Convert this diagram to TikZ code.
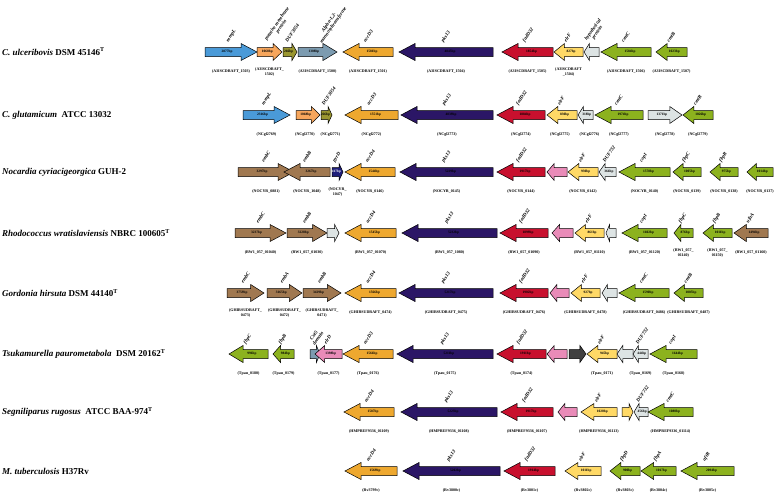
\documentclass[tikz,border=0pt]{standalone}
\usepackage{fontspec}
\setmainfont{Liberation Serif}
\usetikzlibrary{calc}
\definecolor{cblue}{HTML}{4A9AD8}
\definecolor{corange}{HTML}{F7A65C}
\definecolor{colive}{HTML}{9A9630}
\definecolor{cgreyblue}{HTML}{7C9BB0}
\definecolor{cgold}{HTML}{EEA82F}
\definecolor{cpurple}{HTML}{2B1666}
\definecolor{cred}{HTML}{C8102E}
\definecolor{cyellow}{HTML}{FFD966}
\definecolor{cltgrey}{HTML}{DDE4E4}
\definecolor{cgreen}{HTML}{8CB21E}
\definecolor{cbrown}{HTML}{A07850}
\definecolor{cpink}{HTML}{E98BB8}
\definecolor{cdkblue}{HTML}{1E1E7A}
\definecolor{cdkgrey}{HTML}{404040}
\newcommand{\gene}[6]{%
  \pgfmathsetmacro{\gL}{abs((#3)-(#2))}%
  \pgfmathsetmacro{\gD}{((#3)-(#2))/\gL}%
  \pgfmathsetmacro{\gH}{min(16,0.36*\gL)}%
  \pgfmathsetmacro{\gN}{(#3)-\gD*\gH}%
  \pgfmathsetmacro{\gC}{((#2)+(#3))/2}%
  \pgfmathsetmacro{\gT}{((#2)+\gN)/2+\gD*\gH*0.25}%
  \filldraw[genebody, fill=#5] (#2,#4-4.5) -- (\gN,#4-4.5) -- (\gN,#4-8.5) -- (#3,#4) -- (\gN,#4+8.5) -- (\gN,#4+4.5) -- (#2,#4+4.5) -- cycle;
  \coordinate (#1) at (\gC,#4);
  \node[bp] (#1t) at (\gT,#4) {#6};
}
\newcommand{\gnm}[2]{\node[gname] at ($(#1)+(-4,-10)$) {#2};}
\newcommand{\loc}[2]{\node[locus] at ($(#1)+(0,20)$) {#2};}
\begin{document}
\begin{tikzpicture}[x=1pt,y=-1pt,
  genebody/.style={draw=black,line width=0.5pt},
  bp/.style={font=\fontsize{3.5}{4}\selectfont\bfseries, inner sep=0pt},
  gname/.style={font=\fontsize{5}{5.2}\selectfont\bfseries\itshape, anchor=west, rotate=55, inner sep=0.5pt, align=center},
  locus/.style={font=\fontsize{4}{4.4}\selectfont\bfseries, inner sep=0pt, align=center},
  species/.style={font=\fontsize{9}{10}\selectfont\bfseries, anchor=west, inner sep=0pt}]
\useasboundingbox (0,0) rectangle (778,493);
\fill[white] (0,0) rectangle (778,493);

% species
\node[species] (s1) at (2,52) {\itshape C. ulceribovis\upshape\ DSM 45146\textsuperscript{T}};
\node[species] (s2) at (2,115) {\itshape C. glutamicum\upshape\ \ ATCC 13032};
\node[species] (s3) at (2,172) {\itshape Nocardia cyriacigeorgica\upshape\ GUH-2};
\node[species] (s4) at (2,233) {\itshape Rhodococcus wratislaviensis\upshape\ NBRC 100605\textsuperscript{T}};
\node[species] (s5) at (2,293) {\itshape Gordonia hirsuta\upshape\ DSM 44140\textsuperscript{T}};
\node[species] (s6) at (2,354) {\itshape Tsukamurella paurometabola\upshape\ \ DSM 20162\textsuperscript{T}};
\node[species] (s7) at (2,412) {\itshape Segniliparus rugosus\upshape\ \ ATCC BAA-974\textsuperscript{T}};
\node[species] (s8) at (2,471) {\itshape M. tuberculosis\upshape\ H37Rv};

% Row 1
\gene{r1a}{205}{257}{52}{cblue}{2877bp}
\gene{r1b}{257}{282}{52}{corange}{1068bp}
\gene{r1c}{283}{297}{52}{colive}{266bp}
\gene{r1d}{298}{337}{52}{cgreyblue}{1308bp}
\gene{r1e}{393}{343}{52}{cgold}{1581bp}
\gene{r1f}{493}{399}{52}{cpurple}{4845bp}
\gene{r1g}{553}{502}{52}{cred}{1854bp}
\gene{r1h}{583}{554}{52}{cyellow}{827bp}
\gene{r1i}{599}{584}{52}{cltgrey}{}
\gene{r1j}{651}{601}{52}{cgreen}{1584bp}
\gene{r1k}{687}{656}{52}{cgreen}{1023bp}
\gnm{r1a}{mmpL}
\node[gname] at ($(r1b)+(-2,-10)$) {putative membrane\\protein};
\gnm{r1c}{DUF3054}
\node[gname] at ($(r1d)+(1,-10)$) {Alpha-1,2-\\mannosyltransferase};
\gnm{r1e}{accD3}
\gnm{r1f}{pks13}
\gnm{r1g}{fadD32}
\gnm{r1h}{elrF}
\gnm{r1i}{hypothetical\\protein}
\gnm{r1j}{cmtC}
\gnm{r1k}{cmtB}
\loc{r1a}{(A3ISCDRAFT\_1503)}
\loc{r1b}{(A3ISCDRAFT\_\\1502)}
\loc{r1d}{(A3ISCDRAFT\_1500)}
\loc{r1e}{(A3ISCDRAFT\_1501)}
\loc{r1f}{(A3ISCDRAFT\_1504)}
\loc{r1g}{(A3ISCDRAFT\_1505)}
\loc{r1h}{(A3ISCDRAFT\\\_1504)}
\loc{r1j}{(A3ISCDRAFT\_1506)}
\loc{r1k}{(A3ISCDRAFT\_1507)}

% Row 2
\gene{r2a}{243}{290}{115}{cblue}{2316bp}
\gene{r2b}{296}{320}{115}{corange}{1068bp}
\gene{r2c}{321}{332}{115}{colive}{266bp}
\gene{r2d}{398}{345}{115}{cgold}{1551bp}
\gene{r2e}{493}{401}{115}{cpurple}{4839bp}
\gene{r2f}{545}{497}{115}{cred}{1884bp}
\gene{r2g}{577}{547}{115}{cyellow}{830bp}
\gene{r2h}{593}{578}{115}{cltgrey}{318bp}
\gene{r2i}{643}{595}{115}{cgreen}{1974bp}
\gene{r2j}{648}{682}{115}{cltgrey}{1371bp}
\gene{r2k}{713}{683}{115}{cgreen}{1026bp}
\gnm{r2a}{mmpL}
\gnm{r2c}{DUF3054}
\gnm{r2d}{accD3}
\gnm{r2e}{pks13}
\gnm{r2f}{fadD32}
\gnm{r2g}{elrF}
\gnm{r2i}{cmtC}
\gnm{r2k}{cmtB}
\loc{r2a}{(NCgl2769)}
\node[locus] at ($(r2b)+(-3,20)$) {(NCgl2770)};
\node[locus] at ($(r2c)+(4,20)$) {(NCgl2771)};
\loc{r2d}{(NCgl2772)}
\loc{r2e}{(NCgl2773)}
\loc{r2f}{(NCgl2774)}
\node[locus] at ($(r2g)+(-2,20)$) {(NCgl2775)};
\node[locus] at ($(r2h)+(4,20)$) {(NCgl2776)};
\loc{r2i}{(NCgl2777)}
\loc{r2j}{(NCgl2778)}
\loc{r2k}{(NCgl2779)}

% Row 3
\gene{r3a}{238}{294}{172}{cbrown}{3297bp}
\gene{r3b}{330}{284}{172}{cbrown}{3267bp}
\gene{r3c}{332}{343}{172}{cdkblue}{\color{white}417bp}
\gene{r3d}{395}{345}{172}{cgold}{1544bp}
\gene{r3e}{493}{400}{172}{cpurple}{5229bp}
\gene{r3f}{545}{497}{172}{cred}{1917bp}
\gene{r3g}{567}{547}{172}{cpink}{}
\gene{r3h}{598}{568}{172}{cyellow}{930bp}
\gene{r3i}{616}{599}{172}{cltgrey}{366bp}
\gene{r3j}{670}{619}{172}{cgreen}{1578bp}
\gene{r3k}{701}{673}{172}{cgreen}{1005bp}
\gene{r3l}{738}{710}{172}{cgreen}{975bp}
\gene{r3m}{773}{747}{172}{cgreen}{1014bp}
\gnm{r3a}{embC}
\gnm{r3b}{embB}
\gnm{r3c}{pyrD}
\gnm{r3d}{accD4}
\gnm{r3e}{pks13}
\gnm{r3f}{fadD32}
\gnm{r3h}{elrF}
\gnm{r3i}{DUF732}
\gnm{r3j}{cop1}
\gnm{r3k}{fbpC}
\gnm{r3l}{fbpB}
\loc{r3a}{(NOCYR\_0881)}
\loc{r3b}{(NOCYR\_1048)}
\loc{r3c}{(NOCYR\_\\1047)}
\loc{r3d}{(NOCYR\_0146)}
\loc{r3e}{(NOCYR\_0145)}
\loc{r3f}{(NOCYR\_0144)}
\loc{r3h}{(NOCYR\_0142)}
\loc{r3j}{(NOCYR\_0140)}
\loc{r3k}{(NOCYR\_0139)}
\loc{r3l}{(NOCYR\_0138)}
\loc{r3m}{(NOCYR\_0137)}

% Row 4
\gene{r4a}{235}{286}{233}{cbrown}{3237bp}
\gene{r4b}{287}{327}{233}{cbrown}{3228bp}
\gene{r4c}{327}{339}{233}{cltgrey}{}
\gene{r4d}{396}{345}{233}{cgold}{1545bp}
\gene{r4e}{497}{402}{233}{cpurple}{5232bp}
\gene{r4f}{548}{500}{233}{cred}{1899bp}
\gene{r4g}{573}{552}{233}{cpink}{}
\gene{r4h}{604}{575}{233}{cyellow}{861bp}
\gene{r4i}{616}{606}{233}{cltgrey}{}
\gene{r4j}{667}{622}{233}{cgreen}{1602bp}
\gene{r4k}{693}{674}{233}{cgreen}{876bp}
\gene{r4l}{732}{703}{233}{cgreen}{1011bp}
\gene{r4m}{768}{734}{233}{cbrown}{1494bp}
\gnm{r4a}{embC}
\gnm{r4b}{embB}
\gnm{r4d}{accD4}
\gnm{r4e}{pks13}
\gnm{r4f}{fadD32}
\gnm{r4h}{elrF}
\gnm{r4j}{cop1}
\gnm{r4k}{fbpC}
\gnm{r4l}{fbpB}
\gnm{r4m}{ufaA}
\loc{r4a}{(RW1\_057\_01040)}
\loc{r4b}{(RW1\_057\_01030)}
\loc{r4d}{(RW1\_057\_01070)}
\loc{r4e}{(RW1\_057\_1080)}
\loc{r4f}{(RW1\_057\_01090)}
\loc{r4h}{(RW1\_057\_01110)}
\loc{r4j}{(RW1\_057\_01120)}
\loc{r4k}{(RW1\_057\_\\01140)}
\loc{r4l}{(RW1\_057\_\\01150)}
\loc{r4m}{(RW1\_057\_01160)}

% Row 5
\gene{r5a}{227}{264}{293}{cbrown}{3759bp}
\gene{r5b}{267}{302}{293}{cbrown}{3165bp}
\gene{r5c}{303}{341}{293}{cbrown}{3429bp}
\gene{r5d}{396}{345}{293}{cgold}{1566bp}
\gene{r5e}{493}{399}{293}{cpurple}{5217bp}
\gene{r5f}{548}{500}{293}{cred}{1902bp}
\gene{r5g}{569}{550}{293}{cpink}{}
\gene{r5h}{600}{571}{293}{cyellow}{927bp}
\gene{r5i}{617}{602}{293}{cltgrey}{}
\gene{r5j}{669}{619}{293}{cgreen}{1590bp}
\gene{r5k}{703}{674}{293}{cgreen}{1005bp}
\gnm{r5a}{embC}
\gnm{r5b}{embA}
\gnm{r5c}{embB}
\gnm{r5d}{accD4}
\gnm{r5e}{pks13}
\gnm{r5f}{fadD32}
\gnm{r5h}{elrF}
\gnm{r5j}{cmtC}
\gnm{r5k}{cmtB}
\loc{r5a}{(GHIRSUDRAFT\_\\0473)}
\loc{r5b}{(GHIRSUDRAFT\_\\0472)}
\loc{r5c}{(GHIRSUDRAFT\_\\0471)}
\loc{r5d}{(GHIRSUDRAFT\_0474)}
\loc{r5e}{(GHIRSUDRAFT\_0475)}
\loc{r5f}{(GHIRSUDRAFT\_0476)}
\loc{r5h}{(GHIRSUDRAFT\_0478)}
\loc{r5j}{(GHIRSUDRAFT\_0486)}
\loc{r5k}{(GHIRSUDRAFT\_0487)}

% Row 6
\gene{r6a}{268}{229}{354}{cgreen}{996bp}
\gene{r6b}{294}{273}{354}{cgreen}{984bp}
\gene{r6c}{310}{320}{354}{cgreyblue}{}
\gene{r6d}{342}{315}{354}{cpink}{1398bp}
\gene{r6e}{393}{343}{354}{cgold}{1566bp}
\gene{r6f}{493}{397}{354}{cpurple}{5211bp}
\gene{r6g}{546}{497}{354}{cred}{1911bp}
\gene{r6h}{567}{547}{354}{cpink}{}
\gene{r6i}{569}{586}{354}{cdkgrey}{}
\gene{r6j}{617}{587}{354}{cyellow}{945bp}
\gene{r6k}{633}{617}{354}{cltgrey}{}
\gene{r6l}{648}{633}{354}{cltgrey}{444bp}
\gene{r6m}{697}{650}{354}{cgreen}{1644bp}
\gnm{r6a}{fbpC}
\gnm{r6b}{fbpB}
\gnm{r6c}{Cut5\\domain}
\gnm{r6d}{elrD}
\gnm{r6e}{accD3}
\gnm{r6f}{pks13}
\gnm{r6g}{fadD32}
\gnm{r6j}{elrF}
\gnm{r6l}{DUF732}
\gnm{r6m}{cop1}
\loc{r6a}{(Tpau\_0180)}
\loc{r6b}{(Tpau\_0179)}
\loc{r6d}{(Tpau\_0177)}
\loc{r6e}{(Tpau\_0176)}
\loc{r6f}{(Tpau\_0175)}
\loc{r6g}{(Tpau\_0174)}
\loc{r6j}{(Tpau\_0171)}
\loc{r6l}{(Tpau\_0169)}
\loc{r6m}{(Tpau\_0168)}

% Row 7
\gene{r7a}{394}{344}{412}{cgold}{1587bp}
\gene{r7b}{497}{401}{412}{cpurple}{5223bp}
\gene{r7c}{553}{501}{412}{cred}{1917bp}
\gene{r7d}{577}{558}{412}{cpink}{}
\gene{r7e}{617}{581}{412}{cyellow}{1020bp}
\gene{r7f}{622}{633}{412}{cyellow}{}
\gene{r7g}{648}{634}{412}{cltgrey}{456bp}
\gene{r7h}{693}{648}{412}{cgreen}{1080bp}
\gnm{r7a}{accD4}
\gnm{r7b}{pks13}
\gnm{r7c}{fadD32}
\gnm{r7e}{elrF}
\gnm{r7g}{DUF732}
\gnm{r7h}{cmtC}
\loc{r7a}{(HMPREF9336\_01109)}
\loc{r7b}{(HMPREF9336\_01108)}
\loc{r7c}{(HMPREF9336\_01107)}
\loc{r7e}{(HMPREF9336\_01113)}
\loc{r7h}{(HMPREF9336\_01114)}

% Row 8
\gene{r8a}{397}{345}{471}{cgold}{1569bp}
\gene{r8b}{500}{403}{471}{cpurple}{5202bp}
\gene{r8c}{555}{504}{471}{cred}{1914bp}
\gene{r8d}{601}{565}{471}{cyellow}{1011bp}
\gene{r8e}{640}{610}{471}{cgreen}{900bp}
\gene{r8f}{676}{641}{471}{cgreen}{1017bp}
\gene{r8g}{734}{681}{471}{cgreen}{2094bp}
\gnm{r8a}{accD4}
\gnm{r8b}{pks13}
\gnm{r8c}{fadD32}
\gnm{r8d}{elrF}
\gnm{r8e}{fbpD}
\gnm{r8f}{fbpA}
\gnm{r8g}{aftB}
\loc{r8a}{(Rv3799c)}
\loc{r8b}{(Rv3800c)}
\loc{r8c}{(Rv3801c)}
\loc{r8d}{(Rv3802c)}
\loc{r8e}{(Rv3803c)}
\loc{r8f}{(Rv3804c)}
\loc{r8g}{(Rv3805c)}
\end{tikzpicture}
\end{document}
